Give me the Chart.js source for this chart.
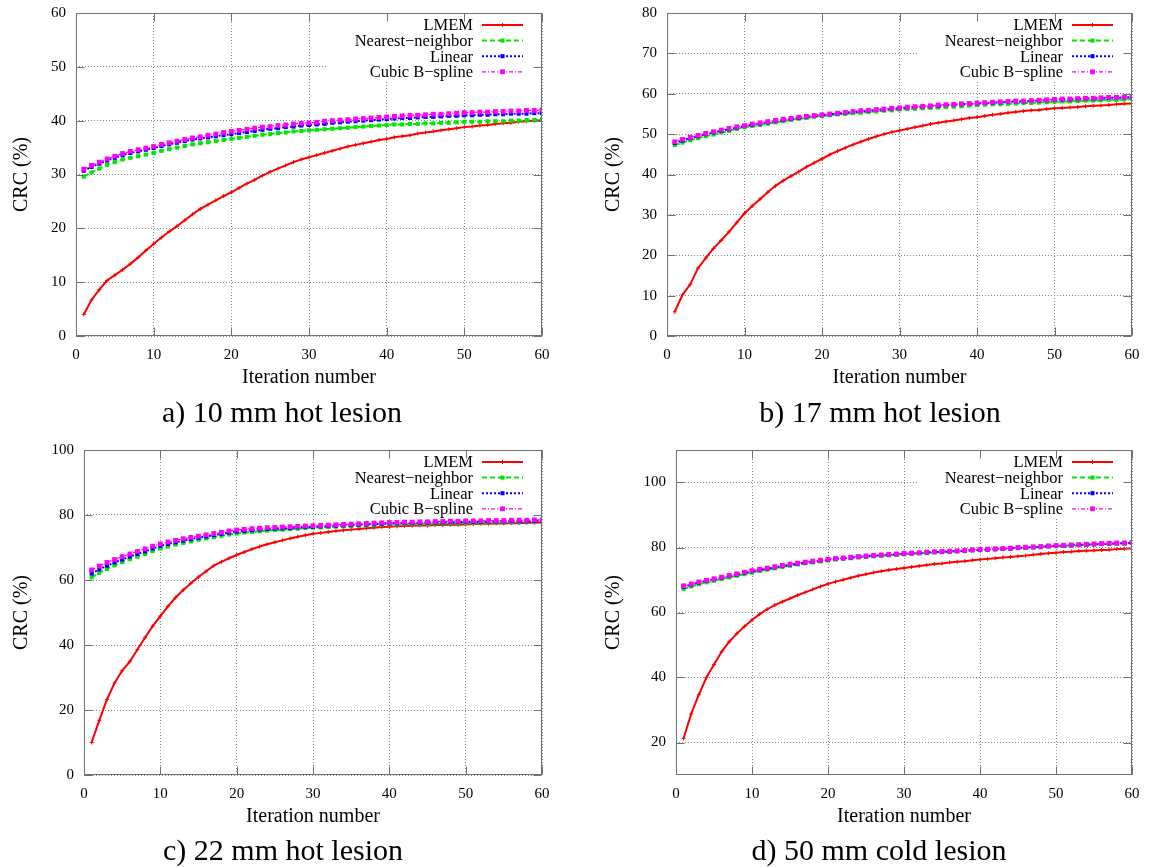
<!DOCTYPE html>
<html>
<head>
<meta charset="utf-8">
<script src="https://cdn.jsdelivr.net/npm/chart.js@4.4.0/dist/chart.umd.min.js"></script>
<style>
  html, body { margin: 0; padding: 0; background: #fff; }
  #page { position: relative; width: 1154px; height: 867px; overflow: hidden; background: #fff; }
  #page canvas { position: absolute; }
  .cap { position: absolute; font-family: "Liberation Serif", "Times New Roman", serif; font-size: 30px;
         color: #000; transform: translate(-50%, -50%); white-space: nowrap; line-height: 1; }
</style>
</head>
<body>
<div id="page"></div>
<script>
// ---- iteration axis ----
const iterations = [1,2,3,4,5,6,7,8,9,10,11,12,13,14,15,16,17,18,19,20,
  21,22,23,24,25,26,27,28,29,30,31,32,33,34,35,36,37,38,39,40,
  41,42,43,44,45,46,47,48,49,50,51,52,53,54,55,56,57,58,59,60];
const xTickValues = [0, 10, 20, 30, 40, 50, 60];

const seriesLabels = ['LMEM', 'Nearest\u2212neighbor', 'Linear', 'Cubic B\u2212spline'];
const panelCaptions = ['a) 10 mm hot lesion', 'b) 17 mm hot lesion', 'c) 22 mm hot lesion', 'd) 50 mm cold lesion'];

// ---- a) 10 mm hot lesion ----
const yTicksA = [0, 10, 20, 30, 40, 50, 60];
const lmemA = [4.0,6.7,8.6,10.3,11.3,12.3,13.4,14.6,15.9,17.1,18.3,19.4,20.4,21.5,22.6,23.6,24.4,25.2,26.0,26.7,
  27.5,28.3,29.0,29.8,30.5,31.1,31.7,32.3,32.8,33.2,33.6,34.0,34.4,34.8,35.2,35.5,35.8,36.1,36.4,36.6,
  36.9,37.1,37.3,37.6,37.8,38.0,38.2,38.4,38.6,38.8,38.9,39.1,39.2,39.4,39.5,39.6,39.8,39.9,40.0,40.1];
const nearestA = [29.6,30.4,31.1,31.8,32.3,32.8,33.1,33.4,33.7,34.0,34.4,34.7,35.0,35.3,35.6,35.8,36.0,36.2,36.4,36.6,
  36.8,37.0,37.2,37.4,37.5,37.7,37.8,38.0,38.1,38.2,38.3,38.4,38.5,38.6,38.7,38.8,38.9,39.0,39.1,39.2,
  39.3,39.3,39.4,39.4,39.5,39.5,39.6,39.6,39.7,39.8,39.8,39.8,39.9,39.9,39.9,40.0,40.0,40.1,40.1,40.2];
const linearA = [30.7,31.4,32.0,32.6,33.1,33.6,34.0,34.3,34.6,34.9,35.3,35.6,35.9,36.2,36.5,36.7,36.9,37.1,37.3,37.5,
  37.7,37.9,38.1,38.3,38.5,38.6,38.8,38.9,39.1,39.2,39.3,39.4,39.6,39.7,39.8,39.9,40.0,40.1,40.2,40.3,
  40.4,40.5,40.5,40.6,40.7,40.7,40.8,40.9,40.9,41.0,41.0,41.1,41.1,41.2,41.2,41.3,41.3,41.3,41.4,41.4];
const cubicA = [31.0,31.7,32.3,32.9,33.4,33.9,34.3,34.6,34.9,35.2,35.6,35.9,36.2,36.5,36.8,37.0,37.3,37.5,37.8,38.0,
  38.2,38.4,38.6,38.8,38.9,39.1,39.2,39.4,39.5,39.6,39.7,39.9,40.0,40.1,40.2,40.3,40.4,40.5,40.6,40.7,
  40.8,40.9,41.0,41.0,41.1,41.2,41.2,41.3,41.4,41.5,41.5,41.6,41.6,41.7,41.7,41.8,41.8,41.9,41.9,42.0];

// ---- b) 17 mm hot lesion ----
const yTicksB = [0, 10, 20, 30, 40, 50, 60, 70, 80];
const lmemB = [6.0,10.2,12.8,16.8,19.3,21.7,23.7,25.8,28.1,30.4,32.2,33.9,35.6,37.2,38.5,39.6,40.7,41.9,42.9,43.9,
  44.9,45.8,46.6,47.4,48.1,48.8,49.4,50.0,50.5,50.9,51.3,51.7,52.1,52.5,52.8,53.1,53.4,53.7,54.0,54.2,
  54.5,54.8,55.0,55.3,55.5,55.7,55.9,56.0,56.2,56.4,56.5,56.6,56.7,56.9,57.0,57.1,57.2,57.4,57.5,57.6];
const nearestB = [47.3,47.9,48.5,49.0,49.5,49.9,50.4,50.8,51.3,51.7,52.0,52.3,52.6,52.9,53.2,53.5,53.8,54.0,54.3,54.5,
  54.7,54.9,55.0,55.2,55.3,55.5,55.6,55.8,55.9,56.1,56.2,56.3,56.4,56.5,56.6,56.7,56.8,56.9,57.1,57.2,
  57.3,57.4,57.4,57.5,57.6,57.7,57.7,57.8,57.9,58.0,58.1,58.1,58.2,58.3,58.3,58.4,58.5,58.5,58.6,58.7];
const linearB = [47.8,48.4,49.0,49.5,50.0,50.4,50.8,51.2,51.6,52.0,52.3,52.6,52.9,53.2,53.5,53.8,54.0,54.3,54.5,54.7,
  54.9,55.1,55.3,55.5,55.7,55.8,56.0,56.1,56.3,56.4,56.6,56.7,56.8,56.9,57.0,57.2,57.3,57.4,57.5,57.6,
  57.7,57.8,57.9,58.0,58.1,58.1,58.2,58.3,58.4,58.5,58.6,58.6,58.7,58.8,58.8,58.9,59.0,59.0,59.1,59.2];
const cubicB = [48.1,48.7,49.2,49.7,50.2,50.6,51.0,51.4,51.8,52.1,52.5,52.8,53.1,53.4,53.7,53.9,54.2,54.4,54.6,54.8,
  55.0,55.2,55.4,55.6,55.8,55.9,56.1,56.2,56.4,56.5,56.7,56.8,56.9,57.0,57.2,57.3,57.4,57.5,57.6,57.7,
  57.8,57.9,58.0,58.1,58.2,58.2,58.3,58.4,58.5,58.6,58.7,58.7,58.8,58.9,58.9,59.0,59.1,59.1,59.2,59.3];

// ---- c) 22 mm hot lesion ----
const yTicksC = [0, 20, 40, 60, 80, 100];
const lmemC = [10.0,16.8,23.2,28.3,32.1,34.9,38.6,42.3,45.8,48.9,51.9,54.6,56.9,59.0,60.9,62.7,64.4,65.6,66.7,67.7,
  68.6,69.5,70.3,71.0,71.6,72.2,72.8,73.3,73.8,74.2,74.5,74.8,75.1,75.3,75.5,75.7,75.9,76.1,76.3,76.4,
  76.5,76.6,76.7,76.8,76.8,76.9,76.9,77.0,77.0,77.1,77.2,77.3,77.3,77.4,77.4,77.5,77.5,77.6,77.6,77.7];
const nearestC = [60.8,62.2,63.4,64.5,65.5,66.4,67.2,68.0,68.9,69.7,70.3,70.9,71.4,71.9,72.4,72.8,73.2,73.6,74.0,74.3,
  74.6,74.8,75.0,75.2,75.4,75.5,75.7,75.8,76.0,76.1,76.2,76.3,76.4,76.5,76.6,76.7,76.8,76.9,77.0,77.1,
  77.1,77.2,77.2,77.3,77.3,77.4,77.4,77.5,77.5,77.6,77.6,77.6,77.7,77.7,77.7,77.8,77.8,77.8,77.9,77.9];
const linearC = [62.0,63.3,64.4,65.4,66.3,67.2,68.0,68.8,69.7,70.5,71.1,71.6,72.1,72.6,73.0,73.4,73.8,74.2,74.6,74.9,
  75.1,75.3,75.5,75.7,75.8,75.9,76.0,76.2,76.3,76.4,76.5,76.6,76.7,76.8,76.9,77.0,77.1,77.2,77.3,77.4,
  77.4,77.5,77.5,77.6,77.6,77.7,77.7,77.8,77.8,77.9,77.9,77.9,78.0,78.0,78.0,78.1,78.1,78.1,78.2,78.2];
const cubicC = [63.1,64.3,65.4,66.3,67.2,68.0,68.8,69.6,70.4,71.1,71.7,72.2,72.7,73.1,73.5,73.9,74.3,74.7,75.1,75.4,
  75.6,75.8,75.9,76.1,76.2,76.3,76.4,76.5,76.6,76.7,76.8,76.9,77.0,77.1,77.2,77.3,77.4,77.5,77.6,77.7,
  77.7,77.8,77.8,77.9,77.9,78.0,78.0,78.1,78.1,78.2,78.2,78.2,78.3,78.3,78.3,78.4,78.4,78.4,78.5,78.5];

// ---- d) 50 mm cold lesion ----
const yRangeD = [10, 110];
const yTicksD = [20, 40, 60, 80, 100];
const lmemD = [21.3,28.8,34.7,40.0,44.0,47.9,51.0,53.5,55.7,57.7,59.5,61.0,62.3,63.3,64.3,65.3,66.2,67.1,68.0,68.8,
  69.5,70.1,70.7,71.3,71.8,72.3,72.7,73.1,73.4,73.7,74.0,74.3,74.6,74.9,75.1,75.4,75.6,75.8,76.1,76.3,
  76.5,76.7,76.9,77.1,77.3,77.5,77.8,78.0,78.2,78.4,78.6,78.7,78.9,79.0,79.1,79.2,79.3,79.5,79.6,79.7];
const nearestD = [67.3,68.0,68.7,69.3,69.8,70.3,70.8,71.3,71.8,72.3,72.8,73.2,73.6,74.0,74.4,74.8,75.1,75.4,75.7,76.0,
  76.3,76.5,76.7,76.9,77.1,77.3,77.5,77.6,77.8,77.9,78.1,78.2,78.3,78.5,78.6,78.7,78.8,78.9,79.1,79.2,
  79.3,79.4,79.5,79.6,79.8,79.9,80.0,80.1,80.3,80.4,80.5,80.6,80.7,80.8,80.9,81.0,81.1,81.2,81.3,81.4];
const linearD = [67.9,68.6,69.2,69.7,70.2,70.7,71.2,71.7,72.2,72.7,73.1,73.5,73.9,74.3,74.7,75.0,75.4,75.7,76.0,76.3,
  76.5,76.7,76.9,77.1,77.3,77.5,77.6,77.8,77.9,78.1,78.2,78.3,78.5,78.6,78.7,78.8,78.9,79.0,79.2,79.3,
  79.4,79.5,79.6,79.7,79.9,80.0,80.1,80.2,80.4,80.5,80.6,80.7,80.8,80.9,81.0,81.1,81.2,81.3,81.3,81.4];
const cubicD = [68.2,68.8,69.4,69.9,70.4,70.9,71.4,71.9,72.4,72.9,73.3,73.7,74.1,74.5,74.9,75.2,75.5,75.8,76.1,76.4,
  76.6,76.8,77.0,77.2,77.4,77.6,77.7,77.9,78.0,78.2,78.3,78.4,78.6,78.7,78.8,78.9,79.0,79.1,79.3,79.4,
  79.5,79.6,79.7,79.8,80.0,80.1,80.2,80.3,80.5,80.6,80.7,80.8,80.9,81.0,81.1,81.2,81.3,81.4,81.4,81.5];

// ---- appearance ----
const SERIF = '"Liberation Serif", "Times New Roman", serif';
const seriesStyles = [
  { color: '#ff0000', width: 2,   dash: [],           point: 'cross', radius: 2,   pointBorder: 1 },
  { color: '#00e600', width: 2,   dash: [5, 3],       point: 'rect',  radius: 2.9, pointBorder: 0 },
  { color: '#0000ff', width: 2,   dash: [2, 2],       point: 'rect',  radius: 2.9, pointBorder: 0 },
  { color: '#ff00ff', width: 1.2, dash: [4, 2, 1, 2], point: 'rect',  radius: 3.4, pointBorder: 0 }
];

// canvas placement and plot-area geometry for each panel
const panels = [
  { left: 0,   top: 0,   w: 577, h: 396, yw: 76, padTop: 13, padRight: 35, xh: 60, ylab: 22,
    ticks: yTicksA, range: [0, 60],  series: [lmemA, nearestA, linearA, cubicA] },
  { left: 577, top: 0,   w: 577, h: 396, yw: 90, padTop: 13, padRight: 22, xh: 60, ylab: 37,
    ticks: yTicksB, range: [0, 80],  series: [lmemB, nearestB, linearB, cubicB] },
  { left: 0,   top: 437, w: 577, h: 398, yw: 84, padTop: 13, padRight: 35, xh: 60, ylab: 22,
    ticks: yTicksC, range: [0, 100], series: [lmemC, nearestC, linearC, cubicC] },
  { left: 577, top: 437, w: 577, h: 398, yw: 99, padTop: 13, padRight: 22, xh: 60, ylab: 37,
    ticks: yTicksD, range: yRangeD, series: [lmemD, nearestD, linearD, cubicD] }
];
const captionPos = [[282, 412], [880, 412], [283, 850], [879, 850]];

// point marker in the key, same shapes as the plotted markers
function drawMarker(ctx, st, x, y) {
  ctx.save();
  if (st.point === 'cross') {
    ctx.strokeStyle = st.color; ctx.lineWidth = st.pointBorder; ctx.setLineDash([]);
    ctx.beginPath();
    ctx.moveTo(x - st.radius, y); ctx.lineTo(x + st.radius, y);
    ctx.moveTo(x, y - st.radius); ctx.lineTo(x, y + st.radius);
    ctx.stroke();
  } else {
    const s = st.radius * Math.SQRT1_2;
    ctx.fillStyle = st.color;
    ctx.fillRect(x - s, y - s, 2 * s, 2 * s);
  }
  ctx.restore();
}

// frame, inward ticks and key box drawn over the plot area
const KEY_FONT = '16.5px ' + SERIF;
function keyBox(chart) {
  const a = chart.chartArea, ctx = chart.ctx;
  ctx.save(); ctx.font = KEY_FONT;
  let wMax = 0;
  chart.data.datasets.forEach(d => { wMax = Math.max(wMax, ctx.measureText(d.label).width); });
  ctx.restore();
  return { left: a.right - 69 - wMax - 27, top: a.top, right: a.right, bottom: a.top + 68 };
}
const gnuFrame = {
  id: 'gnuFrame',
  beforeDatasetsDraw(chart) {
    const b = keyBox(chart), ctx = chart.ctx;
    ctx.save(); ctx.fillStyle = '#fff';
    ctx.fillRect(b.left, b.top, b.right - b.left, b.bottom - b.top);
    ctx.restore();
  },
  afterDatasetsDraw(chart) {
    const a = chart.chartArea, ctx = chart.ctx;
    const xs = chart.scales.x, ys = chart.scales.y;
    const L = Math.round(a.left) + 0.5, R = Math.round(a.right) - 0.5;
    const T = Math.round(a.top) + 0.5, B = Math.round(a.bottom) - 0.5;
    ctx.save();
    ctx.strokeStyle = '#707070'; ctx.lineWidth = 1; ctx.setLineDash([]);
    ctx.beginPath();
    const tl = 8;
    xs.ticks.forEach(t => {
      const px = Math.round(xs.getPixelForValue(t.value)) + 0.5;
      ctx.moveTo(px, B); ctx.lineTo(px, B - tl);
      ctx.moveTo(px, T); ctx.lineTo(px, T + tl);
    });
    ys.ticks.forEach(t => {
      const py = Math.round(ys.getPixelForValue(t.value)) + 0.5;
      ctx.moveTo(L, py); ctx.lineTo(L + tl, py);
      ctx.moveTo(R, py); ctx.lineTo(R - tl, py);
    });
    ctx.stroke();
    ctx.strokeRect(L, T, R - L, B - T);
    ctx.restore();

    // key: right-aligned labels with a line sample and one marker
    ctx.save();
    ctx.font = KEY_FONT; ctx.fillStyle = '#000';
    ctx.textAlign = 'right'; ctx.textBaseline = 'middle';
    chart.data.datasets.forEach((d, i) => {
      const st = seriesStyles[i];
      const y = a.top + 12 + i * 15.6;
      ctx.fillText(d.label, a.right - 69, y + 1);
      ctx.strokeStyle = st.color; ctx.lineWidth = st.width; ctx.setLineDash(st.dash);
      ctx.beginPath(); ctx.moveTo(a.right - 60, y); ctx.lineTo(a.right - 19, y); ctx.stroke();
      drawMarker(ctx, st, a.right - 39.5, y);
    });
    ctx.restore();
  }
};

const page = document.getElementById('page');
panels.forEach((p, k) => {
  const cv = document.createElement('canvas');
  cv.width = p.w; cv.height = p.h;
  cv.style.left = p.left + 'px'; cv.style.top = p.top + 'px';
  cv.style.width = p.w + 'px'; cv.style.height = p.h + 'px';
  page.appendChild(cv);

  const datasets = p.series.map((vals, i) => {
    const st = seriesStyles[i];
    return {
      label: seriesLabels[i],
      data: iterations.map((it, j) => ({ x: it, y: vals[j] })),
      borderColor: st.color, backgroundColor: st.color,
      borderWidth: st.width, borderDash: st.dash,
      pointStyle: st.point, pointRadius: st.radius, pointBorderWidth: st.pointBorder,
      pointBorderColor: st.color, pointBackgroundColor: st.color,
      tension: 0, fill: false, order: 3 - i
    };
  });

  new Chart(cv, {
    type: 'line',
    data: { datasets },
    plugins: [gnuFrame],
    options: {
      responsive: false, animation: false, devicePixelRatio: 1, events: [],
      layout: { padding: { left: 0, top: p.padTop, right: p.padRight, bottom: 0 } },
      plugins: { legend: { display: false }, tooltip: { enabled: false } },
      scales: {
        x: {
          type: 'linear', min: 0, max: 60,
          afterBuildTicks: s => { s.ticks = xTickValues.map(v => ({ value: v })); },
          afterFit: s => { s.height = p.xh; s.paddingLeft = 0; s.paddingRight = 0; },
          ticks: { font: { family: SERIF, size: 15 }, color: '#000', padding: 10, maxRotation: 0, autoSkip: false },
          grid: { color: '#8a8a8a', lineWidth: 1, drawTicks: false },
          border: { display: false, dash: [1, 2] },
          title: { display: true, text: 'Iteration number', color: '#000',
                   font: { family: SERIF, size: 20 }, padding: { top: 0, bottom: 6 } }
        },
        y: {
          type: 'linear', min: p.range[0], max: p.range[1],
          afterBuildTicks: s => { s.ticks = p.ticks.map(v => ({ value: v })); },
          afterFit: s => { s.width = p.yw; s.paddingTop = 0; s.paddingBottom = 0; },
          ticks: { font: { family: SERIF, size: 15 }, color: '#000', padding: 10, autoSkip: false },
          grid: { color: '#8a8a8a', lineWidth: 1, drawTicks: false },
          border: { display: false, dash: [1, 2] },
          title: { display: true, text: 'CRC (%)', color: '#000',
                   font: { family: SERIF, size: 20 }, padding: { top: p.ylab - 12, bottom: 0 } }
        }
      }
    }
  });

  const cap = document.createElement('div');
  cap.className = 'cap';
  cap.textContent = panelCaptions[k];
  cap.style.left = captionPos[k][0] + 'px';
  cap.style.top = captionPos[k][1] + 'px';
  page.appendChild(cap);
});
</script>
</body>
</html>
